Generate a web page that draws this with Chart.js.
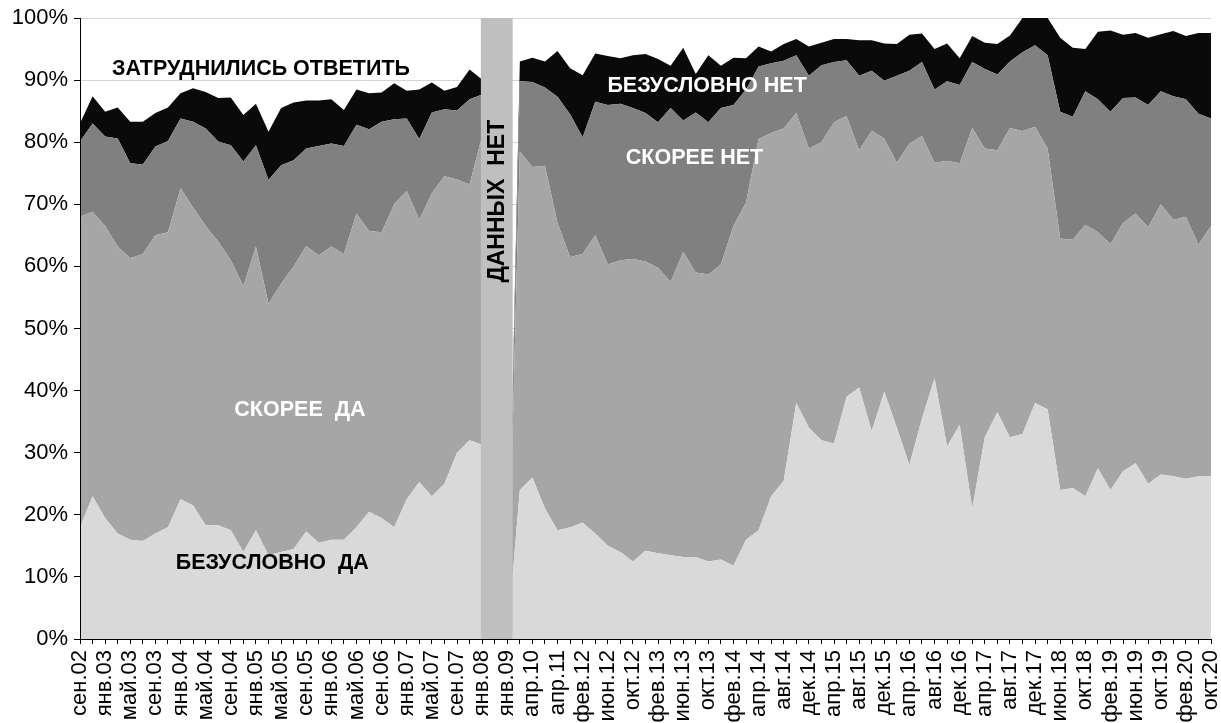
<!DOCTYPE html>
<html>
<head>
<meta charset="utf-8">
<script src="https://cdn.jsdelivr.net/npm/chart.js@4/dist/chart.umd.min.js"></script>
<style>
  html, body { margin: 0; padding: 0; background: #fff; }
  #wrap { width: 1221px; height: 723px; }
</style>
</head>
<body>
<div id="wrap"><canvas id="chart" width="1221" height="723"></canvas></div>
<script>
// labelled every second survey wave
const tickLabels = [
  "сен.02", "янв.03", "май.03", "сен.03", "янв.04", "май.04", "сен.04", "янв.05",
  "май.05", "сен.05", "янв.06", "май.06", "сен.06", "янв.07", "май.07", "сен.07",
  "янв.08", "янв.09", "апр.10", "апр.11", "фев.12", "июн.12", "окт.12", "фев.13",
  "июн.13", "окт.13", "фев.14", "апр.14", "авг.14", "дек.14", "апр.15", "авг.15",
  "дек.15", "апр.16", "авг.16", "дек.16", "апр.17", "авг.17", "дек.17", "июн.18",
  "окт.18", "фев.19", "июн.19", "окт.19", "фев.20", "окт.20",
];

// one unlabelled wave between every two labels
const categories = [];
tickLabels.forEach((t, i) => {
  categories.push(t);
  if (i < tickLabels.length - 1) categories.push("");
});

const definitelyYes = [
  18, 23, 19.5, 17, 16, 15.8, 17, 18, 22.5, 21.5,
  18.3, 18.3, 17.5, 14, 17.5, 13.5, 14, 14.5, 17.3, 15.5,
  16, 16, 18, 20.5, 19.5, 18, 22.5, 25.3, 23, 25,
  30, 32, 31.3,
  0, 0,
  24, 26, 21, 17.5, 18, 18.7, 17, 15, 14, 12.5,
  14.2, 13.8, 13.5, 13.2, 13.2, 12.5, 12.8, 11.8, 16, 17.5,
  23, 25.5, 38, 34, 32, 31.5, 39, 40.5, 33.5, 39.8,
  34, 28, 35.5, 42, 31, 34.5, 21, 32.5, 36.5, 32.5,
  33, 38, 37, 24, 24.3, 23, 27.5, 24, 27, 28.3,
  25, 26.5, 26.2, 25.8, 26.2, 26.2,
];

const ratherYes = [
  50, 45.8, 47, 46.2, 45.3, 46.2, 48, 47.5, 50.1, 48,
  48.2, 45.7, 43.5, 42.8, 45.7, 40.5, 43.2, 45.5, 46, 46.3,
  47.2, 46, 50.5, 45.2, 46, 52, 49.7, 42.2, 48.8, 49.5,
  44, 41.2, 49.7,
  0, 0,
  54.5, 50, 55.2, 49.5, 43.5, 43.3, 48, 45.3, 47, 48.7,
  46.6, 46, 44, 49.1, 45.8, 46.2, 47.5, 54.7, 54.3, 63,
  58.5, 56.7, 46.7, 45, 48, 51.7, 45.2, 38.2, 48.3, 40.8,
  42.7, 51.8, 45.5, 34.7, 46, 42.1, 61.3, 46.5, 42.2, 49.8,
  48.8, 44.5, 42, 40.5, 40, 43.7, 38, 39.6, 40, 40.2,
  41.3, 43.5, 41.3, 42.2, 37.3, 40.3,
];

const ratherNo = [
  12.1, 14.2, 14.4, 17.4, 15.3, 14.4, 14.3, 14.7, 11.2, 13.8,
  15.7, 16.1, 18.5, 20.1, 16.3, 19.9, 19.1, 17.1, 15.7, 17.6,
  16.6, 17.4, 14.3, 16.4, 17.8, 13.7, 11.6, 13, 13, 10.8,
  11.1, 13.7, 6.7,
  0, 0,
  11.3, 13.7, 12.6, 20.3, 23, 18.8, 21.5, 25.7, 25.2, 24.3,
  23.9, 23.4, 28, 21.2, 25.8, 24.5, 25.2, 19.5, 18.2, 11.7,
  11.2, 10.9, 9.3, 11.7, 12.4, 9.7, 9, 12, 9.7, 9.3,
  14, 11.7, 11.9, 11.8, 12.8, 12.6, 10.6, 12.8, 12.2, 10.7,
  12.7, 13.1, 15, 20.4, 19.8, 21.5, 21.4, 21.3, 20.1, 18.7,
  19.7, 18.2, 19.9, 18.9, 21.1, 17.3,
];

const definitelyNo = [
  2.9, 4.4, 4, 5, 6.7, 6.9, 5.4, 5.4, 4.1, 5.4,
  5.9, 7, 7.7, 7.5, 6.7, 7.8, 9.2, 9.3, 7.7, 7.3,
  7.1, 5.8, 5.7, 5.8, 4.7, 5.8, 4.5, 8, 4.8, 3,
  3.8, 4.8, 2.4,
  0, 0,
  3.2, 3.9, 4.2, 7.4, 7.4, 10, 7.8, 7.9, 7.3, 8.5,
  9.5, 10.2, 6.8, 11.7, 6.2, 10.8, 6.8, 7.6, 5, 3.2,
  1.9, 2.7, 2.6, 4.7, 3.6, 3.7, 3.4, 5.7, 4.9, 6,
  5.1, 5.8, 4.6, 6.5, 6.1, 4.3, 4.2, 4.2, 4.9, 4.2,
  5.5, 4.4, 6, 11.9, 11.1, 6.8, 10.9, 13.1, 10.2, 10.4,
  10.8, 9.2, 10.5, 10.2, 13, 13.8,
];

const yTicks = [0, 10, 20, 30, 40, 50, 60, 70, 80, 90, 100];

// gap with no surveys, in category units
const noDataSpan = [31.9, 34.43];

// in-chart captions: [text, category position, percent, colour, rotated]
const captions = [
  ["ЗАТРУДНИЛИСЬ ОТВЕТИТЬ", 14.4, 91.8, "#000", false],
  ["БЕЗУСЛОВНО НЕТ", 49.9, 89, "#fff", false],
  ["СКОРЕЕ НЕТ", 48.9, 77.5, "#fff", false],
  ["СКОРЕЕ  ДА", 17.5, 36.9, "#fff", false],
  ["БЕЗУСЛОВНО  ДА", 15.3, 12.2, "#000", false],
  ["ДАННЫХ  НЕТ", 33.2, 70.5, "#000", true],
];

const FONT = "'Liberation Sans', Arial, sans-serif";

const overlay = {
  id: "overlay",
  afterDatasetsDraw(chart) {
    const { ctx, chartArea, scales } = chart;
    const x = scales.x;
    const y = scales.y;
    ctx.save();
    const left = x.getPixelForValue(noDataSpan[0]);
    const right = x.getPixelForValue(noDataSpan[1]);
    ctx.fillStyle = "#bfbfbf";
    ctx.fillRect(left, chartArea.top, right - left, chartArea.bottom - chartArea.top);

    ctx.textAlign = "center";
    ctx.textBaseline = "middle";
    captions.forEach(([text, cx, cy, color, rotated]) => {
      const px = x.getPixelForValue(cx);
      const py = y.getPixelForValue(cy);
      ctx.fillStyle = color;
      if (rotated) {
        ctx.font = "bold 23px " + FONT;
        ctx.save();
        ctx.translate(px, py);
        ctx.rotate(-Math.PI / 2);
        ctx.fillText(text, 0, 0);
        ctx.restore();
      } else {
        ctx.font = "bold 21.5px " + FONT;
        ctx.fillText(text, px, py);
      }
    });
    ctx.restore();
  },
};

function area(label, data, color, fill) {
  return {
    label,
    data,
    backgroundColor: color,
    borderWidth: 0,
    pointRadius: 0,
    tension: 0,
    fill,
  };
}

new Chart(document.getElementById("chart"), {
  type: "line",
  data: {
    labels: categories,
    datasets: [
      area("Безусловно да", definitelyYes, "#d9d9d9", "origin"),
      area("Скорее да", ratherYes, "#a6a6a6", "-1"),
      area("Скорее нет", ratherNo, "#808080", "-1"),
      area("Безусловно нет", definitelyNo, "#0a0a0a", "-1"),
    ],
  },
  options: {
    responsive: false,
    animation: false,
    layout: { padding: { top: 18, right: 10, left: 0, bottom: 0 } },
    plugins: {
      legend: { display: false },
      tooltip: { enabled: false },
    },
    scales: {
      x: {
        offset: false,
        afterFit: (s) => {
          s.height = 84;
          s.paddingLeft = 0;
          s.paddingRight = 0;
        },
        border: { color: "#000", width: 1, z: 1 },
        grid: { drawOnChartArea: false, tickLength: 5, tickColor: "#000" },
        ticks: {
          autoSkip: false,
          maxRotation: 90,
          minRotation: 90,
          padding: 6,
          color: "#000",
          font: { family: FONT, size: 22 },
        },
      },
      y: {
        stacked: true,
        min: 0,
        max: 100,
        afterFit: (s) => {
          s.width = 80;
          s.paddingTop = 0;
          s.paddingBottom = 0;
        },
        afterBuildTicks: (s) => { s.ticks = yTicks.map((v) => ({ value: v })); },
        border: { color: "#000", width: 1, z: 1 },
        grid: { color: "#d4d4d4", tickLength: 6, tickColor: "#000" },
        ticks: {
          padding: 6,
          color: "#000",
          font: { family: FONT, size: 22 },
          callback: (v) => v + "%",
        },
      },
    },
  },
  plugins: [overlay],
});
</script>
</body>
</html>
